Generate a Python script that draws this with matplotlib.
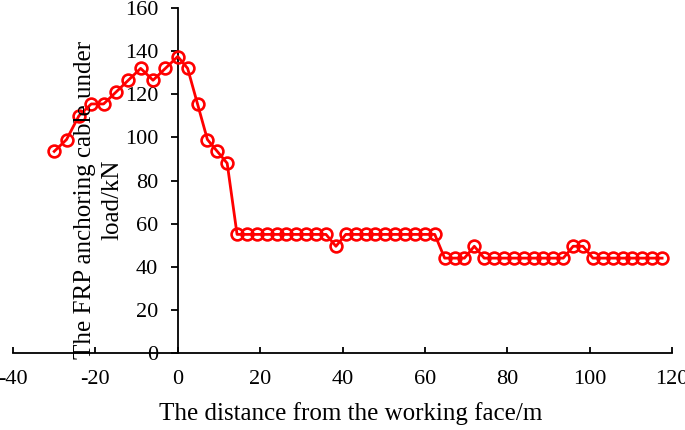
import matplotlib.pyplot as plt
import numpy as np

plt.rcParams['font.family'] = ['Liberation Serif', 'DejaVu Serif']
plt.rcParams['axes.unicode_minus'] = False

# distance from working face (m): 3 m steps ahead of the face, 2.4 m steps behind it
dist_before = [-30, -27, -24, -21, -18, -15, -12, -9, -6, -3]
load_before = [93.5, 99, 110, 115.5, 115.5, 121, 126.5, 132, 126.5, 132]

dist_after = [round(2.4 * i, 1) for i in range(50)]
load_after = [137.5, 132, 115.5, 99, 93.5, 88,
              55, 55, 55, 55, 55, 55, 55, 55, 55, 55,
              49.5,
              55, 55, 55, 55, 55, 55, 55, 55, 55, 55,
              44, 44, 44,
              49.5,
              44, 44, 44, 44, 44, 44, 44, 44, 44,
              49.5, 49.5,
              44, 44, 44, 44, 44, 44, 44, 44]

distance = dist_before + dist_after
load = load_before + load_after

x_ticks = [-40, -20, 0, 20, 40, 60, 80, 100, 120]
y_ticks = [0, 20, 40, 60, 80, 100, 120, 140, 160]

fig = plt.figure(figsize=(6.85, 4.30), dpi=100)
ax = fig.add_axes([13 / 685, 1 - 353 / 430, 659 / 685, 345 / 430])

ax.plot(distance, load, color='#ff0000', lw=2, marker='o', markersize=8.5,
        markerfacecolor='none', markeredgewidth=1.9, zorder=3, clip_on=False)

ax.set_xlim(-40, 120)
ax.set_ylim(0, 160)
ax.set_xticks(x_ticks)
ax.set_yticks(y_ticks)

ax.spines['top'].set_visible(False)
ax.spines['right'].set_visible(False)
ax.spines['left'].set_position(('data', 0))
for s in ('left', 'bottom'):
    ax.spines[s].set_linewidth(1.3)

ax.tick_params(axis='x', direction='in', length=4, width=1.3, labelsize=16, pad=12)
ax.tick_params(axis='y', direction='out', length=5, width=1.3, labelsize=16, pad=9)

ax.set_xlabel('The distance from the working face/m', fontsize=18)
ax.xaxis.set_label_coords((351 - 13) / 659, -0.143)
fig.text(99 / 685, 1 - 200 / 430, 'The FRP anchoring cable under\nload/kN',
         rotation=90, ha='center', va='center', fontsize=18, linespacing=1.3)

plt.savefig('out.png', dpi=100)
plt.close()
